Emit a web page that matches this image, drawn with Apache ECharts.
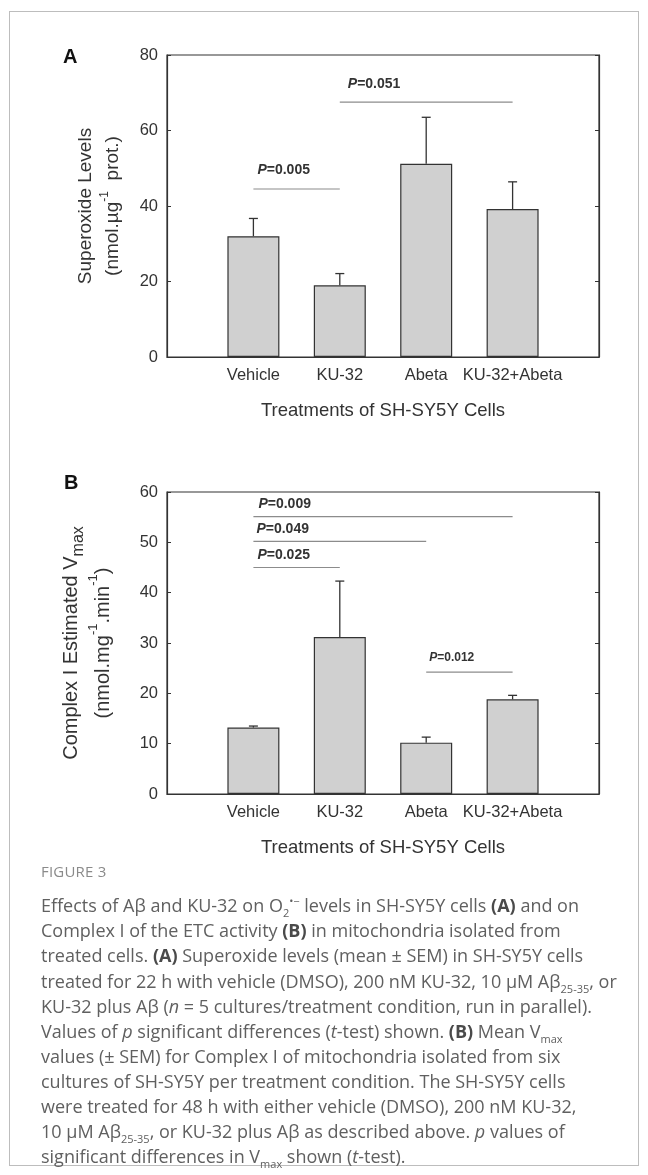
<!DOCTYPE html>
<html>
<head>
<meta charset="utf-8">
<script src="https://cdn.jsdelivr.net/npm/echarts@6/dist/echarts.min.js"></script>
<style>
  html, body { margin: 0; padding: 0; background: #fff; }
  body { width: 648px; height: 1175px; position: relative; overflow: hidden; }
  #frame { position: absolute; left: 9px; top: 11px; width: 628px; height: 1153px; border: 1px solid #bdbdbd; }
  #chart { position: absolute; left: 0; top: 0; width: 648px; height: 880px; }
  #caption { position: absolute; left: 41px; top: 859px; font-family: "Open Sans", "Noto Sans", sans-serif; color: #606060; font-size: 18px; line-height: 25.1px; white-space: nowrap; }
  #caption .fig { color: #8a8a8a; font-size: 15px; letter-spacing: 0.2px; line-height: 25.3px; margin-bottom: 9px; }
  #caption b { font-weight: 700; color: #4a4a4a; }
  #caption sub, #caption sup { font-size: 11px; line-height: 0; }
</style>
</head>
<body>
<div id="frame"></div>
<div id="chart"></div>
<div id="caption">
<div class="fig">FIGURE 3</div>
<div>Effects of Aβ and KU-32 on O<sub>2</sub><sup>•−</sup> levels in SH-SY5Y cells <b>(A)</b> and on</div>
<div>Complex I of the ETC activity <b>(B)</b> in mitochondria isolated from</div>
<div>treated cells. <b>(A)</b> Superoxide levels (mean ± SEM) in SH-SY5Y cells</div>
<div>treated for 22 h with vehicle (DMSO), 200 nM KU-32, 10 μM Aβ<sub>25-35</sub>, or</div>
<div>KU-32 plus Aβ (<i>n</i> = 5 cultures/treatment condition, run in parallel).</div>
<div>Values of <i>p</i> significant differences (<i>t</i>-test) shown. <b>(B)</b> Mean V<sub>max</sub></div>
<div>values (± SEM) for Complex I of mitochondria isolated from six</div>
<div>cultures of SH-SY5Y per treatment condition. The SH-SY5Y cells</div>
<div>were treated for 48 h with either vehicle (DMSO), 200 nM KU-32,</div>
<div>10 μM Aβ<sub>25-35</sub>, or KU-32 plus Aβ as described above. <i>p</i> values of</div>
<div>significant differences in V<sub>max</sub> shown (<i>t</i>-test).</div>
</div>
<script>
// ---------- data ----------
const categories = ['', 'Vehicle', 'KU-32', 'Abeta', 'KU-32+Abeta', ''];
const superoxideMean = [32.0, 19.0, 51.2, 39.2];
const superoxideSEM = [4.7, 3.1, 12.3, 7.2];
const vmaxMean = [13.2, 31.2, 10.2, 18.8];
const vmaxSEM = [0.3, 11.1, 1.1, 0.8];
const barIndex = [1, 2, 3, 4];
const yAxisA = { min: 0, max: 80, interval: 20 };
const yAxisB = { min: 0, max: 60, interval: 10 };
// significance brackets: [fromIndex, toIndex, yValue, pText]
const sigA = [[1, 2, 44.5, '0.005'], [2, 4, 67.5, '0.051']];
const sigB = [[1, 4, 55.1, '0.009'], [1, 3, 50.2, '0.049'], [1, 2, 45.0, '0.025'], [3, 4, 24.2, '0.012']];
const xTitle = 'Treatments of SH-SY5Y Cells';

// ---------- style ----------
const FONT = 'Arial, "Liberation Sans", sans-serif';
const DARK = '#333333';
const sigLabelStyleA = [{ dx: 4, dy: 19, size: 14 }, { dx: 8, dy: 18, size: 14 }];
const sigLabelStyleB = [{ dx: 5, dy: 12.5, size: 14 }, { dx: 3, dy: 12.5, size: 14 }, { dx: 4, dy: 12.5, size: 14 }, { dx: 3, dy: 14.5, size: 12 }];

const chart = echarts.init(document.getElementById('chart'), null, { renderer: 'canvas' });

function barData(means) {
  const d = categories.map(() => null);
  barIndex.forEach((ix, i) => { d[ix] = means[i]; });
  return d;
}
function errData(means, sems) {
  return barIndex.map((ix, i) => [ix, means[i], means[i] + sems[i]]);
}
function errorRender(params, api) {
  const x = api.value(0), lo = api.value(1), hi = api.value(2);
  const p0 = api.coord([x, lo]);
  const p1 = api.coord([x, hi]);
  const cap = 4.5;
  const st = { stroke: DARK, lineWidth: 1.3 };
  return {
    type: 'group', children: [
      { type: 'line', shape: { x1: p0[0], y1: p0[1], x2: p1[0], y2: p1[1] }, style: st },
      { type: 'line', shape: { x1: p1[0] - cap, y1: p1[1], x2: p1[0] + cap, y2: p1[1] }, style: st }
    ]
  };
}
function sigRender(list, styles) {
  return function (params, api) {
    const s = list[params.dataIndex];
    const ls = styles[params.dataIndex];
    const a = api.coord([s[0], s[2]]);
    const b = api.coord([s[1], s[2]]);
    return {
      type: 'group', children: [
        { type: 'line', shape: { x1: a[0], y1: a[1], x2: b[0], y2: b[1] }, style: { stroke: '#8c8c8c', lineWidth: 1.2 } },
        {
          type: 'text', x: a[0] + ls.dx, y: a[1] - ls.dy,
          style: {
            text: '{i|P}{n|=' + s[3] + '}',
            align: 'left', verticalAlign: 'middle',
            rich: {
              i: { fontFamily: FONT, fontSize: ls.size, fontWeight: 'bold', fontStyle: 'italic', fill: DARK },
              n: { fontFamily: FONT, fontSize: ls.size, fontWeight: 'bold', fill: DARK }
            }
          }
        }
      ]
    };
  };
}

const richTitle = {
  t: { fontFamily: FONT, fontSize: 19, color: DARK, lineHeight: 27 },
  s: { fontFamily: FONT, fontSize: 12, color: DARK, lineHeight: 14, verticalAlign: 'top' },
  tb: { fontFamily: FONT, fontSize: 20, color: DARK, lineHeight: 32 },
  sb: { fontFamily: FONT, fontSize: 13, color: DARK, lineHeight: 18, verticalAlign: 'top' },
  mb: { fontFamily: FONT, fontSize: 16, color: DARK, lineHeight: 26, verticalAlign: 'bottom' }
};

function makeX(gi) {
  return {
    type: 'category', gridIndex: gi, data: categories, boundaryGap: false,
    axisLine: { show: true, lineStyle: { color: DARK, width: 1.2 } },
    axisTick: { show: false },
    axisLabel: { interval: 0, fontFamily: FONT, fontSize: 16.5, color: DARK, margin: 10 },
    splitLine: { show: false },
    name: xTitle, nameLocation: 'middle', nameGap: 44,
    nameTextStyle: { fontFamily: FONT, fontSize: 18.5, color: DARK }
  };
}
function makeY(gi, ax, name, gap) {
  return {
    type: 'value', gridIndex: gi, position: 'left', min: ax.min, max: ax.max, interval: ax.interval,
    axisLine: { show: true, lineStyle: { color: DARK, width: 1.2 } },
    axisTick: { show: true, inside: true, length: 4, lineStyle: { color: DARK } },
    axisLabel: { fontFamily: FONT, fontSize: 16.5, color: DARK, margin: 9 },
    splitLine: { show: false },
    name: name, nameLocation: 'middle', nameGap: gap,
    nameTextStyle: { rich: richTitle, align: 'center' }
  };
}
function makeYRight(gi, ax) {
  return {
    type: 'value', gridIndex: gi, position: 'right', min: ax.min, max: ax.max, interval: ax.interval,
    axisLine: { show: true, lineStyle: { color: DARK, width: 1.2 } },
    axisTick: { show: true, inside: true, length: 4, lineStyle: { color: DARK } },
    axisLabel: { show: false }, splitLine: { show: false }
  };
}

const barStyle = { color: '#d0d0d0', borderColor: DARK, borderWidth: 1.2 };

chart.setOption({
  animation: false,
  backgroundColor: 'transparent',
  grid: [
    { left: 167, top: 55, width: 432, height: 302, show: true, borderColor: DARK, borderWidth: 1.2 },
    { left: 167, top: 492, width: 432, height: 302, show: true, borderColor: DARK, borderWidth: 1.2 }
  ],
  xAxis: [makeX(0), makeX(1)],
  yAxis: [
    makeY(0, yAxisA, '{t|Superoxide Levels}\n{t|(nmol.µg}{s|-1}{t|  prot.)}', 41),
    makeYRight(0, yAxisA),
    makeY(1, yAxisB, '{tb|Complex I Estimated V}{mb|max}\n{tb|(nmol.mg}{sb|-1}{tb|.min}{sb|-1}{tb|)}', 48),
    makeYRight(1, yAxisB)
  ],
  graphic: [
    { type: 'text', left: 63, top: 47, style: { text: 'A', fontFamily: FONT, fontSize: 20, fontWeight: 'bold', fill: '#111' } },
    { type: 'text', left: 64, top: 473, style: { text: 'B', fontFamily: FONT, fontSize: 20, fontWeight: 'bold', fill: '#111' } }
  ],
  series: [
    { type: 'bar', xAxisIndex: 0, yAxisIndex: 0, data: barData(superoxideMean), barWidth: 52, itemStyle: barStyle, z: 2 },
    { type: 'custom', xAxisIndex: 0, yAxisIndex: 0, data: errData(superoxideMean, superoxideSEM), renderItem: errorRender, z: 3 },
    { type: 'custom', xAxisIndex: 0, yAxisIndex: 0, data: sigA.map(s => [s[0], s[1], s[2]]), renderItem: sigRender(sigA, sigLabelStyleA), z: 4 },
    { type: 'bar', xAxisIndex: 1, yAxisIndex: 2, data: barData(vmaxMean), barWidth: 52, itemStyle: barStyle, z: 2 },
    { type: 'custom', xAxisIndex: 1, yAxisIndex: 2, data: errData(vmaxMean, vmaxSEM), renderItem: errorRender, z: 3 },
    { type: 'custom', xAxisIndex: 1, yAxisIndex: 2, data: sigB.map(s => [s[0], s[1], s[2]]), renderItem: sigRender(sigB, sigLabelStyleB), z: 4 }
  ]
});
</script>
</body>
</html>
